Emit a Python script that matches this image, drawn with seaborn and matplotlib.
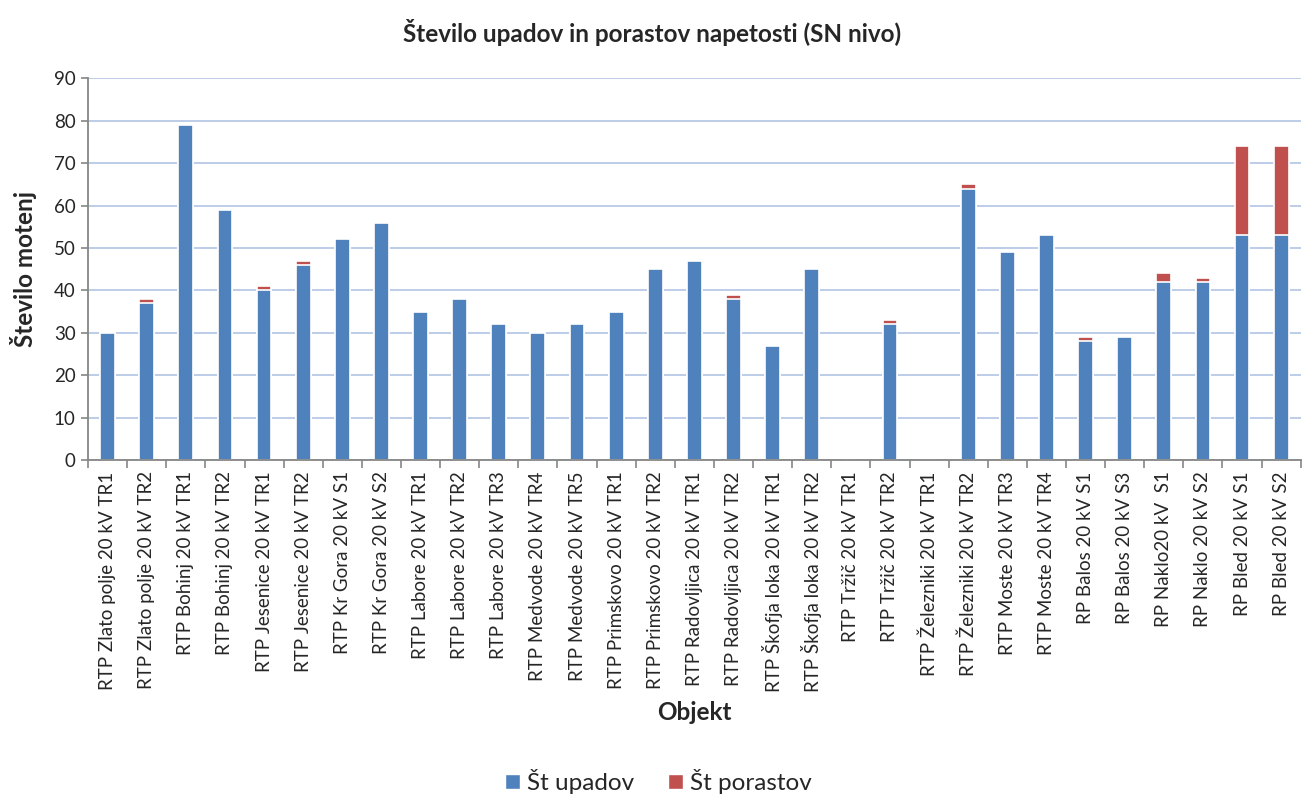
import seaborn as sns
import matplotlib.pyplot as plt
import pandas as pd
from matplotlib.patches import Patch
from matplotlib.ticker import FixedLocator


objekti = [
    "RTP Zlato polje 20 kV TR1", "RTP Zlato polje 20 kV TR2",
    "RTP Bohinj 20 kV TR1", "RTP Bohinj 20 kV TR2",
    "RTP Jesenice 20 kV TR1", "RTP Jesenice 20 kV TR2",
    "RTP Kr Gora 20 kV S1", "RTP Kr Gora 20 kV S2",
    "RTP Labore 20 kV TR1", "RTP Labore 20 kV TR2", "RTP Labore 20 kV TR3",
    "RTP Medvode 20 kV TR4", "RTP Medvode 20 kV TR5",
    "RTP Primskovo 20 kV TR1", "RTP Primskovo 20 kV TR2",
    "RTP Radovljica 20 kV TR1", "RTP Radovljica 20 kV TR2",
    "RTP Škofja loka 20 kV TR1", "RTP Škofja loka 20 kV TR2",
    "RTP Tržič 20 kV TR1", "RTP Tržič 20 kV TR2",
    "RTP Železniki 20 kV TR1", "RTP Železniki 20 kV TR2",
    "RTP Moste 20 kV TR3", "RTP Moste 20 kV TR4",
    "RP Balos 20 kV S1", "RP Balos 20 kV S3",
    "RP Naklo20 kV  S1", "RP Naklo 20 kV S2",
    "RP Bled 20 kV S1", "RP Bled 20 kV S2",
]
upadi = [30, 37, 79, 59, 40, 46, 52, 56, 35, 38, 32, 30, 32, 35, 45, 47,
         38, 27, 45, 0, 32, 0, 64, 49, 53, 28, 29, 42, 42, 53, 53]
porasti = [0, 1, 0, 0, 1, 1, 0, 0, 0, 0, 0, 0, 0, 0, 0, 0,
           1, 0, 0, 0, 1, 0, 1, 0, 0, 1, 0, 2, 1, 21, 21]

df = pd.DataFrame({"Objekt": objekti, "upadi": upadi, "porasti": porasti})
df["skupaj"] = df["upadi"] + df["porasti"]

blue = "#4F81BD"
red = "#C0504D"

sns.set_style("white")
plt.rcParams["font.family"] = ["Lato", "DejaVu Sans"]

fig = plt.figure(figsize=(13.04, 8.06), dpi=100)
ax = fig.add_axes([0.0675, 0.429, 0.93, 0.474])

# rdeci stolpec = skupaj, modri cez njega = upadi
sns.barplot(data=df, x="Objekt", y="skupaj", color=red, width=0.38,
            edgecolor="white", linewidth=1.2, saturation=1, ax=ax, zorder=3)
sns.barplot(data=df, x="Objekt", y="upadi", color=blue, width=0.38,
            edgecolor="white", linewidth=1.2, saturation=1, ax=ax, zorder=4)

ax.set_ylim(0, 90)
ax.set_xlim(-0.5, len(objekti) - 0.5)
ax.set_yticks(range(0, 91, 10))
ax.yaxis.grid(True, color="#B7C9E6", linewidth=1.3, zorder=0)
ax.set_axisbelow(True)

for s in ["top", "right"]:
    ax.spines[s].set_visible(False)
for s in ["left", "bottom"]:
    ax.spines[s].set_color("#868686")
    ax.spines[s].set_linewidth(1.3)
    ax.spines[s].set_zorder(5)

ax.tick_params(axis="y", left=True, length=5, width=1.2, color="#868686",
               labelsize=13.5, pad=4)
ax.tick_params(axis="x", which="major", length=0, labelsize=13.5, pad=8,
               labelrotation=90)
ax.xaxis.set_minor_locator(FixedLocator([i + 0.5 for i in range(-1, len(objekti))]))
ax.tick_params(axis="x", which="minor", bottom=True, length=6, width=1.2,
               color="#868686")

ax.set_xlabel("Objekt", fontsize=17.5, fontweight="bold", labelpad=6)
ax.set_ylabel("Število motenj", fontsize=17.5, fontweight="bold", labelpad=12)
fig.suptitle("Število upadov in porastov napetosti (SN nivo)",
             fontsize=17.5, fontweight="bold", x=0.5, y=0.96, va="center")

handles = [Patch(facecolor=blue, label="Št upadov"),
           Patch(facecolor=red, label="Št porastov")]
fig.legend(handles=handles, loc="lower center", bbox_to_anchor=(0.505, -0.012),
           ncol=2, frameon=False, fontsize=17.5, handlelength=0.6,
           handleheight=0.6, handletextpad=0.3, columnspacing=1.4)

fig.savefig("out.png", dpi=100, facecolor="white")
